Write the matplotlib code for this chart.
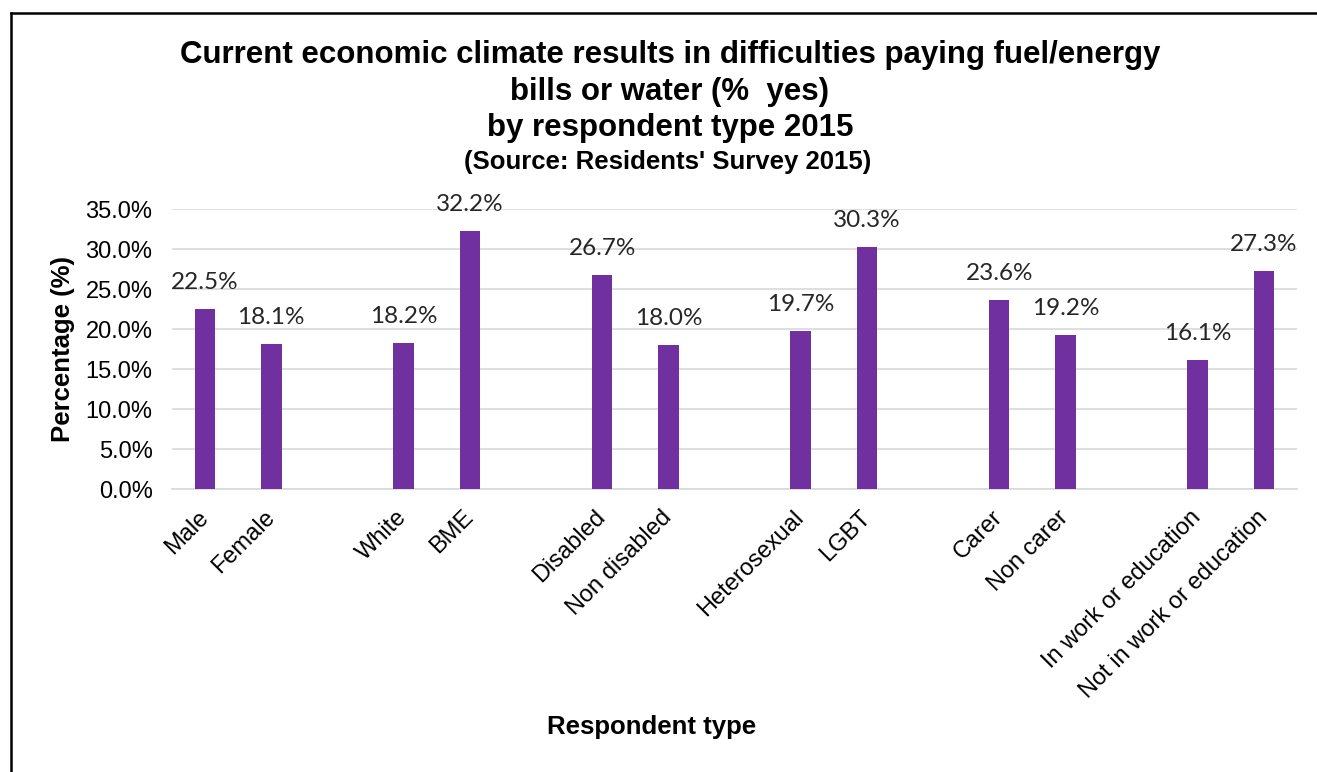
import matplotlib
matplotlib.use("Agg")
import matplotlib.pyplot as plt
from matplotlib.lines import Line2D
from matplotlib.ticker import FuncFormatter

labels = ["Male", "Female", "White", "BME", "Disabled", "Non disabled",
          "Heterosexual", "LGBT", "Carer", "Non carer",
          "In work or education", "Not in work or education"]
values = [22.5, 18.1, 18.2, 32.2, 26.7, 18.0, 19.7, 30.3, 23.6, 19.2, 16.1, 27.3]
yticks = [0, 5, 10, 15, 20, 25, 30, 35]

W, H = 1317, 772
fig = plt.figure(figsize=(W / 100, H / 100), dpi=100)
ax = fig.add_axes([172 / W, 1 - 489 / H, (1297 - 172) / W, (489 - 209) / H])

positions = [i + i // 2 for i in range(len(labels))]
bar_color = "#7030A0"
ax.bar(positions, values, width=0.31, color=bar_color, zorder=3)

for x, v in zip(positions, values):
    ax.text(x, v + 2.0, f"{v:.1f}%", ha="center", va="bottom",
            fontsize=17.5, family=["Lato", "DejaVu Sans"], color="#262626")

ax.set_xlim(-0.5, 16.5)
ax.set_ylim(0, 35)
ax.set_yticks(yticks)
ax.yaxis.set_major_formatter(FuncFormatter(lambda v, p: f"{v:.1f}%"))
ax.grid(axis="y", color="#D9D9D9", linewidth=1.2, zorder=0)
ax.set_axisbelow(True)
for s in ["top", "right", "left"]:
    ax.spines[s].set_visible(False)
ax.spines["bottom"].set_color("#D9D9D9")
ax.spines["bottom"].set_linewidth(1.2)
ax.tick_params(axis="both", length=0)
ax.tick_params(axis="y", pad=14)
ax.tick_params(axis="x", pad=18)
ax.set_xticks(positions)
ax.set_xticklabels(labels, rotation=45, ha="right", va="center", rotation_mode="anchor")
for t in ax.get_xticklabels() + ax.get_yticklabels():
    t.set_fontfamily("Liberation Sans")
    t.set_fontsize(17)
    t.set_color("#000000")

fig.text(670 / W, 1 - 55 / H, "Current economic climate results in difficulties paying fuel/energy",
         ha="center", va="center", fontsize=22.5, fontweight="bold", family="Liberation Sans")
fig.text(670 / W, 1 - 92 / H, "bills or water (%  yes)",
         ha="center", va="center", fontsize=22.5, fontweight="bold", family="Liberation Sans")
fig.text(670 / W, 1 - 128 / H, "by respondent type 2015",
         ha="center", va="center", fontsize=22.5, fontweight="bold", family="Liberation Sans")
fig.text(668 / W, 1 - 162 / H, "(Source: Residents' Survey 2015)",
         ha="center", va="center", fontsize=18.5, fontweight="bold", family="Liberation Sans")

fig.text(652 / W, 1 - 727 / H, "Respondent type", ha="center", va="center",
         fontsize=18.5, fontweight="bold", family="Liberation Sans")
fig.text(63 / W, 1 - 349 / H, "Percentage (%)", ha="center", va="center", rotation=90,
         fontsize=18.5, fontweight="bold", family="Liberation Sans")

fig.add_artist(Line2D([11 / W, 11 / W], [0, 1 - 13 / H], transform=fig.transFigure,
                      color="black", linewidth=1.8))
fig.add_artist(Line2D([11 / W, 1], [1 - 13 / H, 1 - 13 / H], transform=fig.transFigure,
                      color="black", linewidth=1.8))

fig.savefig("out.png", dpi=100, facecolor="white")
